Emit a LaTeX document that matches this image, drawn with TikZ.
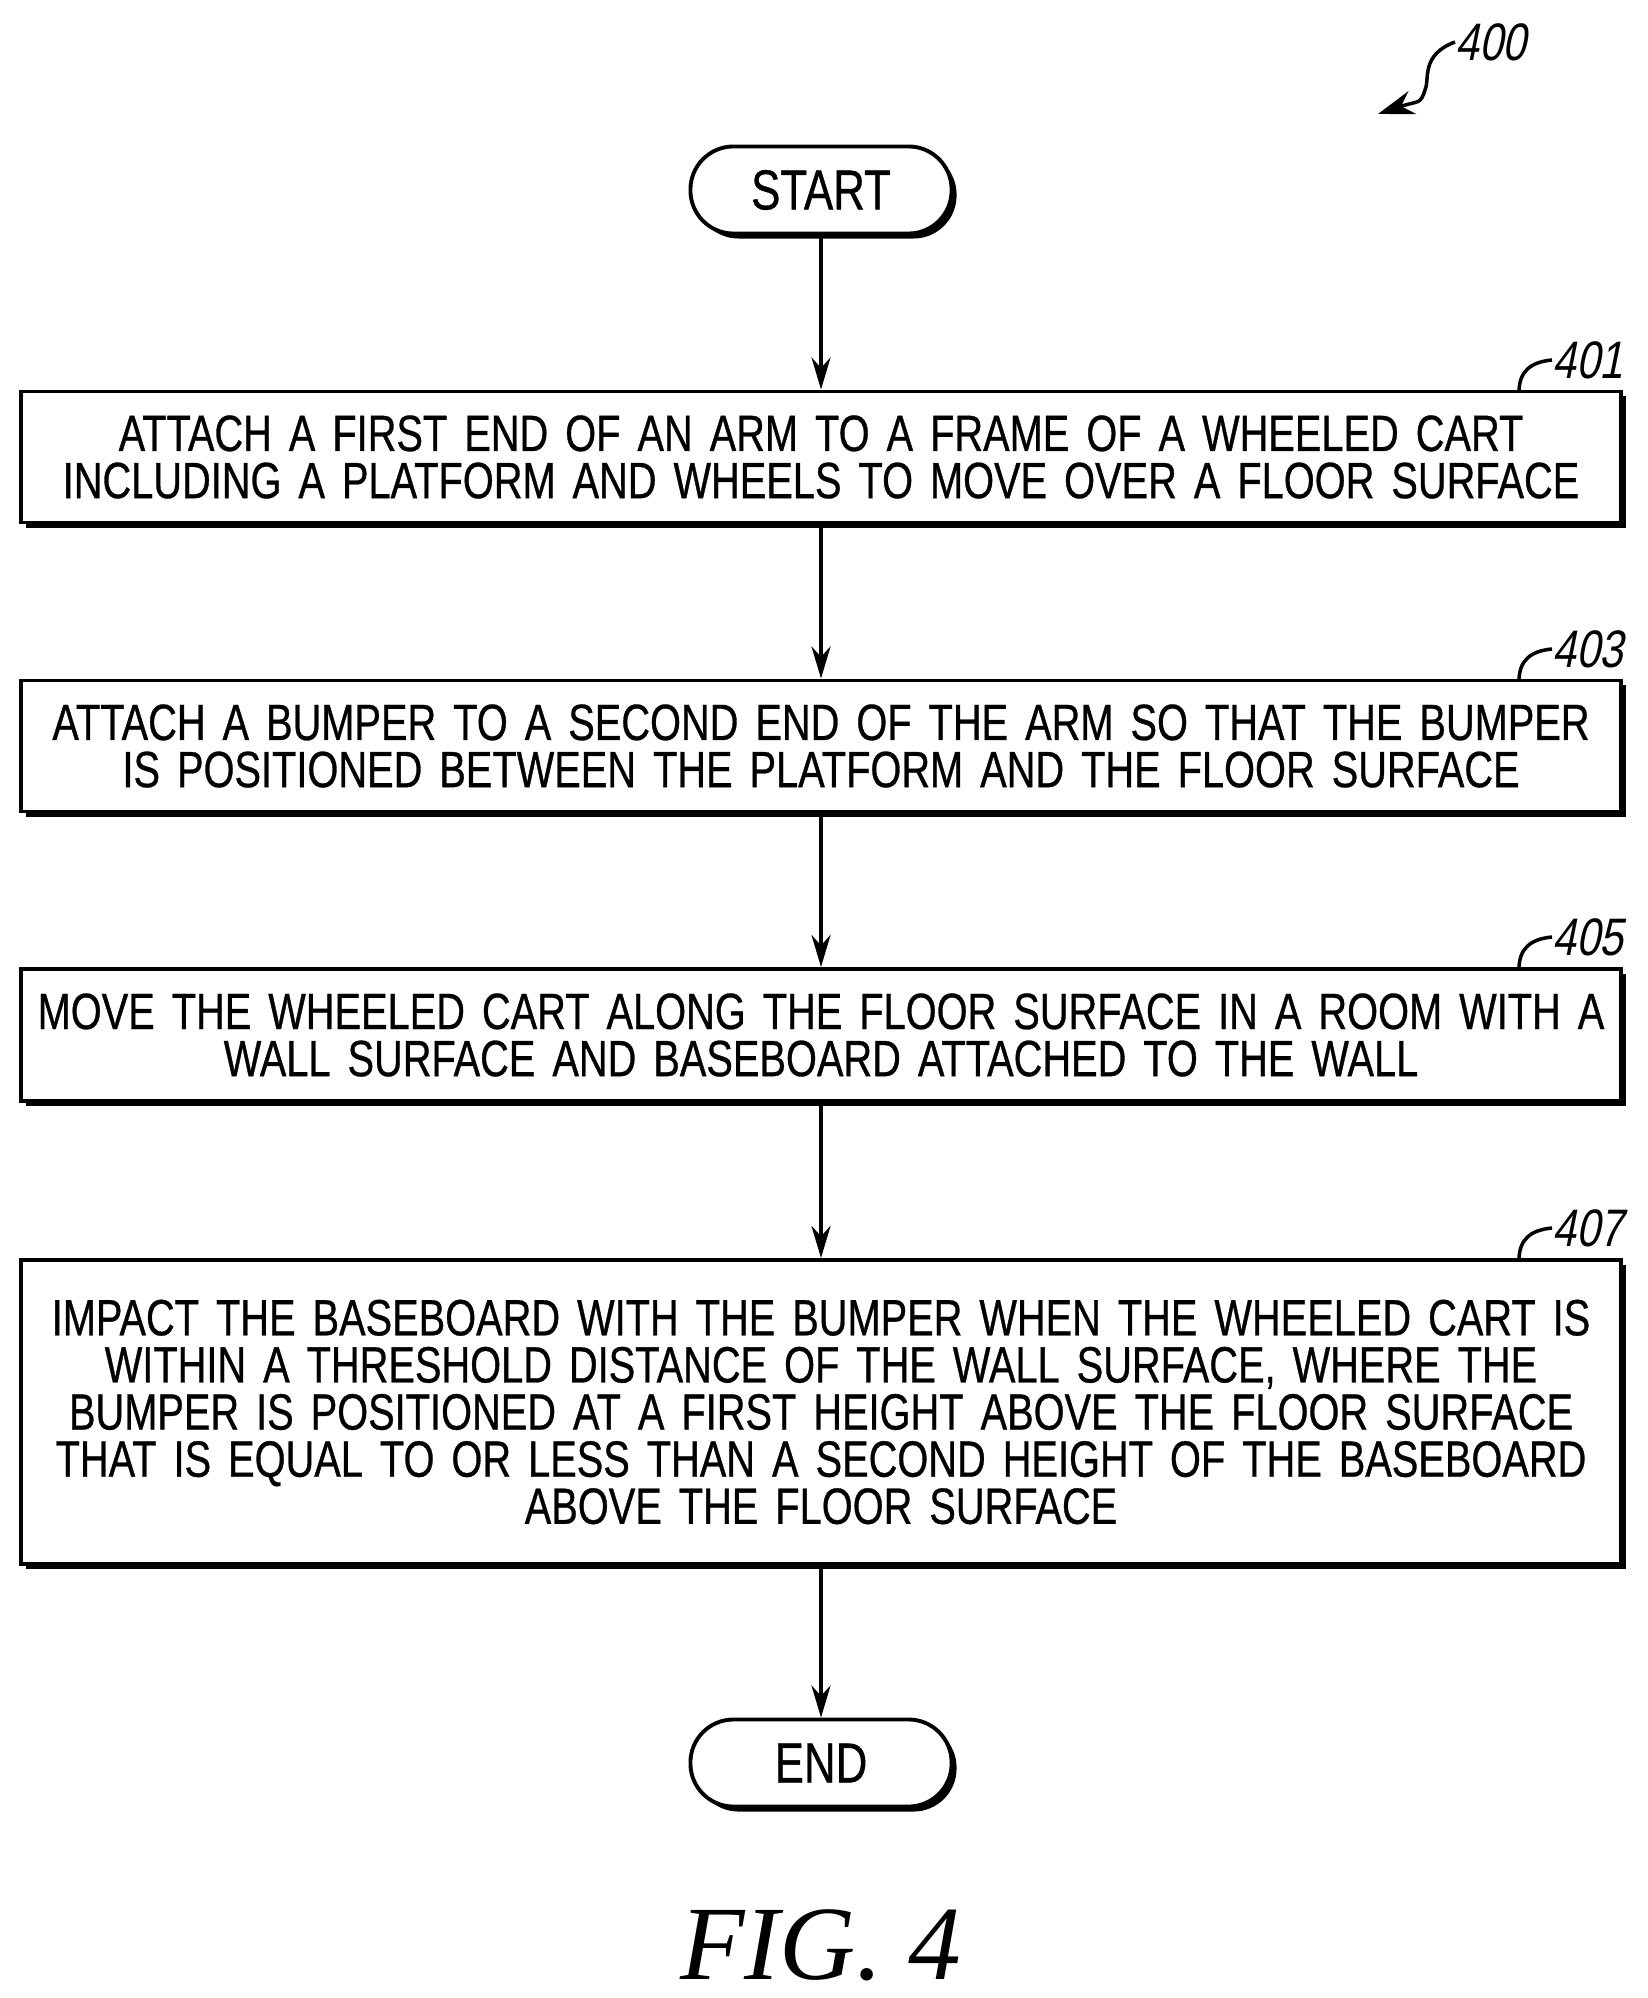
\documentclass[tikz,border=0pt]{standalone}
\usepackage{fontspec}
\setmainfont{Liberation Serif}
\newfontfamily\flowfont[FakeStretch=0.78,FakeBold=0.6]{Liberation Sans}
\newfontfamily\reffont[FakeStretch=0.8,FakeSlant=0.2]{Liberation Sans}
\usetikzlibrary{arrows.meta,shadows}
\tikzset{
  flowbox/.style={draw,line width=1.1pt,fill=white,
    drop shadow={shadow xshift=0.05cm,shadow yshift=-0.05cm,fill=black,opacity=1},
    minimum width=15.99cm,text width=15.8cm,align=center,inner sep=0pt,
    font=\flowfont\fontsize{14.5pt}{13.4pt}\selectfont},
  term/.style={draw,line width=1.1pt,fill=white,rounded corners=0.43cm,
    drop shadow={shadow xshift=0.05cm,shadow yshift=-0.05cm,fill=black,opacity=1},
    minimum width=2.61cm,minimum height=0.87cm,inner sep=0pt,
    font=\flowfont\fontsize{16pt}{16pt}\selectfont},
  flow/.style={line width=1.1pt,-{Stealth[length=3.2mm,width=1.9mm]}},
  reflabel/.style={font=\reffont\fontsize{15pt}{16pt}\selectfont,anchor=west,inner sep=0pt},
  leader/.style={line width=1pt}
}
\begin{document}
\begin{tikzpicture}[x=0.01cm,y=-0.01cm]
\useasboundingbox (0,0) rectangle (1647,1998);

\node[term] (start) at (821,190) {START};
\node[flowbox,minimum height=1.31cm] (s401) at (821,457)
  {ATTACH A FIRST END OF AN ARM TO A FRAME OF A WHEELED CART\\
   INCLUDING A PLATFORM AND WHEELS TO MOVE OVER A FLOOR SURFACE};
\node[flowbox,minimum height=1.31cm] (s403) at (821,746)
  {ATTACH A BUMPER TO A SECOND END OF THE ARM SO THAT THE BUMPER\\
   IS POSITIONED BETWEEN THE PLATFORM AND THE FLOOR SURFACE};
\node[flowbox,minimum height=1.32cm] (s405) at (821,1035)
  {MOVE THE WHEELED CART ALONG THE FLOOR SURFACE IN A ROOM WITH A\\
   WALL SURFACE AND BASEBOARD ATTACHED TO THE WALL};
\node[flowbox,minimum height=3.04cm] (s407) at (821,1412)
  {IMPACT THE BASEBOARD WITH THE BUMPER WHEN THE WHEELED CART IS\\
   WITHIN A THRESHOLD DISTANCE OF THE WALL SURFACE, WHERE THE\\
   BUMPER IS POSITIONED AT A FIRST HEIGHT ABOVE THE FLOOR SURFACE\\
   THAT IS EQUAL TO OR LESS THAN A SECOND HEIGHT OF THE BASEBOARD\\
   ABOVE THE FLOOR SURFACE};
\node[term] (end) at (821,1763) {END};

\draw[flow] (start) -- (s401);
\draw[flow] (s401) -- (s403);
\draw[flow] (s403) -- (s405);
\draw[flow] (s405) -- (s407);
\draw[flow] (s407) -- (end);

% reference numerals
\foreach \n/\y in {401/392,403/681,405/969,407/1260}{
  \node[reflabel] (l\n) at (1552,\y-32) {\n};
  \draw[leader] (1519,\y) .. controls (1519,\y-20) and (1530,\y-30) .. (l\n.west);
}
\node[reflabel] (l400) at (1455,42) {400};
\draw[line width=1pt,-{Stealth[length=3.6mm,width=2.4mm]}]
  (l400.west) .. controls (1420,55) and (1430,80) .. (1425,90)
  .. controls (1420,105) and (1420,100) .. (1378,114);

\node[font=\itshape\fontsize{30pt}{34pt}\selectfont] (fig) at (821,1945) {FIG. 4};
\end{tikzpicture}
\end{document}
